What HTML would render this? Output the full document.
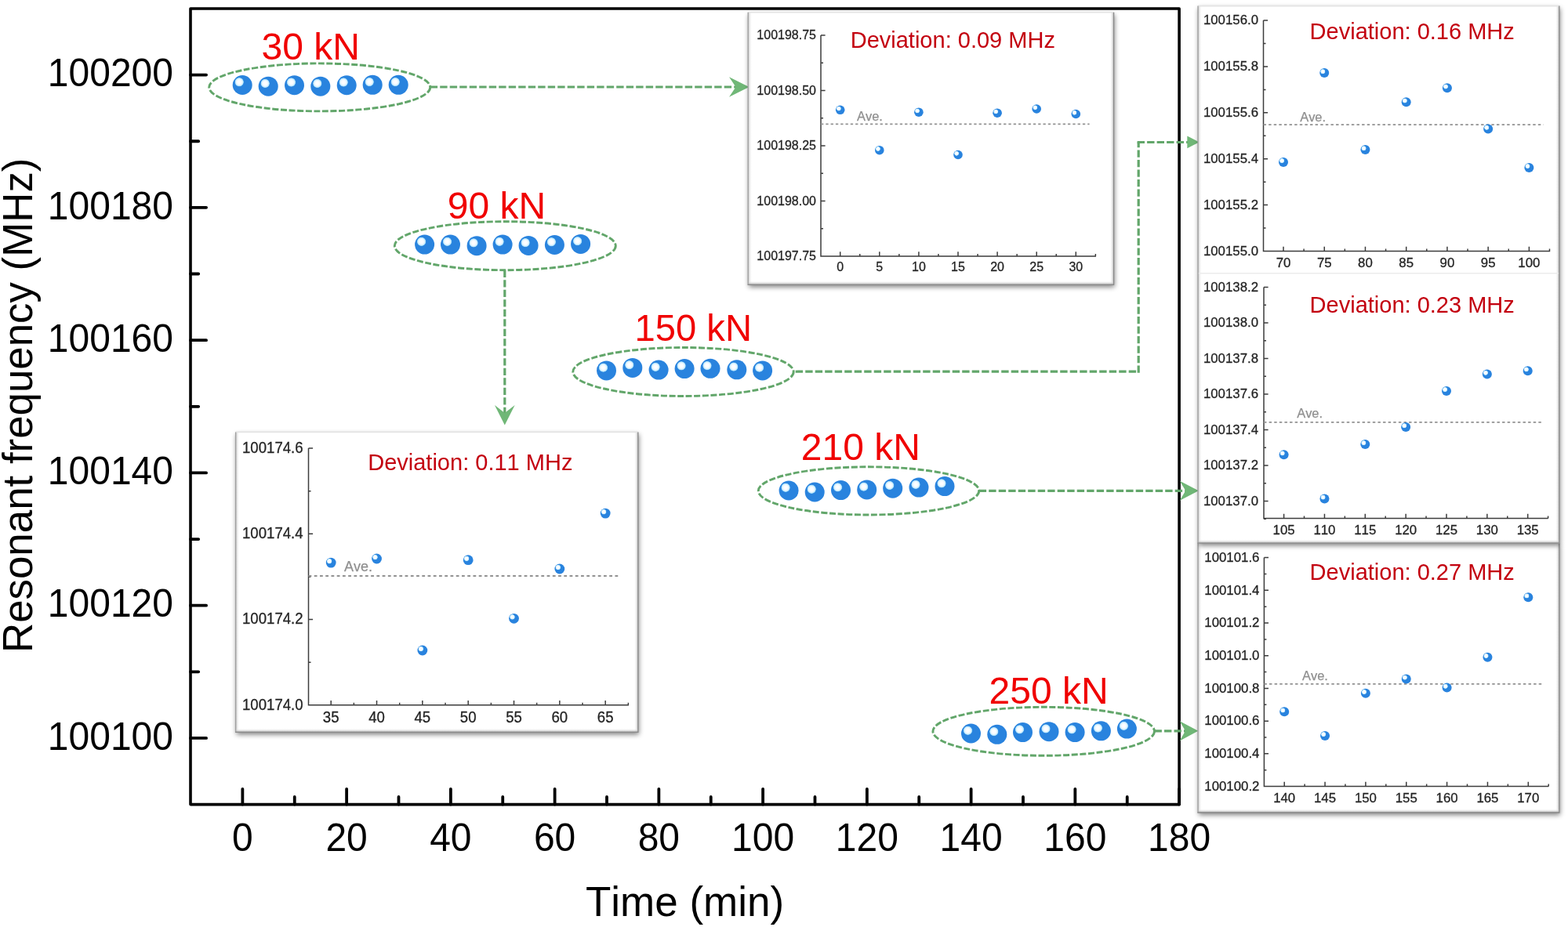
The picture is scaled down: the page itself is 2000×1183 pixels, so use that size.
<!DOCTYPE html><html><head><meta charset="utf-8"><title>Resonant frequency vs time</title>
<style>html,body{margin:0;padding:0;background:#fff;overflow:hidden;}svg{display:block;}text{font-family:'Liberation Sans', Arial, Helvetica, sans-serif;font-kerning:none;}</style></head><body>
<svg width="2000" height="1183" viewBox="0 0 2000 1183">
<defs>
<radialGradient id="hl" cx="0.5" cy="0.5" r="0.5"><stop offset="0" stop-color="#ffffff"/><stop offset="0.5" stop-color="#f7fbff"/><stop offset="0.78" stop-color="#cdeefe"/><stop offset="0.9" stop-color="#98d6f8"/><stop offset="1" stop-color="#5aa8ec" stop-opacity="0.4"/></radialGradient>
<filter id="sh" x="-10%" y="-10%" width="120%" height="125%"><feGaussianBlur in="SourceAlpha" stdDeviation="3"/><feOffset dx="1" dy="3" result="o"/><feComponentTransfer><feFuncA type="linear" slope="0.5"/></feComponentTransfer></filter>
<linearGradient id="gL" x1="0" y1="0" x2="1" y2="0"><stop offset="0" stop-color="#c2c2c2"/><stop offset="1" stop-color="#ffffff" stop-opacity="0"/></linearGradient>
<linearGradient id="gR" x1="1" y1="0" x2="0" y2="0"><stop offset="0" stop-color="#b6b6b6"/><stop offset="1" stop-color="#ffffff" stop-opacity="0"/></linearGradient>
<linearGradient id="gB" x1="0" y1="1" x2="0" y2="0"><stop offset="0" stop-color="#a6a6a6"/><stop offset="1" stop-color="#ffffff" stop-opacity="0"/></linearGradient>
</defs>
<rect x="0" y="0" width="2000" height="1183" fill="#fff"/>
<rect x="243" y="10.96" width="1261.1" height="1015.64" fill="none" stroke="#000" stroke-width="3.6" stroke-linejoin="round"/>
<path d="M243 941.96H263.1M243 772.69H263.1M243 603.42H263.1M243 434.14H263.1M243 264.87H263.1M243 95.6H263.1M243 857.33H253.2M243 688.05H253.2M243 518.78H253.2M243 349.51H253.2M243 180.23H253.2M309.37 1026.6V1006.8M442.12 1026.6V1006.8M574.87 1026.6V1006.8M707.62 1026.6V1006.8M840.36 1026.6V1006.8M973.11 1026.6V1006.8M1105.86 1026.6V1006.8M1238.61 1026.6V1006.8M1371.35 1026.6V1006.8M1504.1 1026.6V1006.8M375.75 1026.6V1017M508.49 1026.6V1017M641.24 1026.6V1017M773.99 1026.6V1017M906.74 1026.6V1017M1039.48 1026.6V1017M1172.23 1026.6V1017M1304.98 1026.6V1017M1437.73 1026.6V1017" stroke="#000" stroke-width="3.8" stroke-linecap="round" fill="none"/>
<text x="221" y="956.76" font-size="49.2" textLength="160.17" lengthAdjust="spacingAndGlyphs" fill="#000" text-anchor="end">100100</text>
<text x="221" y="787.49" font-size="49.2" textLength="160.17" lengthAdjust="spacingAndGlyphs" fill="#000" text-anchor="end">100120</text>
<text x="221" y="618.22" font-size="49.2" textLength="160.17" lengthAdjust="spacingAndGlyphs" fill="#000" text-anchor="end">100140</text>
<text x="221" y="448.94" font-size="49.2" textLength="160.17" lengthAdjust="spacingAndGlyphs" fill="#000" text-anchor="end">100160</text>
<text x="221" y="279.67" font-size="49.2" textLength="160.17" lengthAdjust="spacingAndGlyphs" fill="#000" text-anchor="end">100180</text>
<text x="221" y="110.4" font-size="49.2" textLength="160.17" lengthAdjust="spacingAndGlyphs" fill="#000" text-anchor="end">100200</text>
<text x="309.37" y="1085.6" font-size="49.2" textLength="26.7" lengthAdjust="spacingAndGlyphs" fill="#000" text-anchor="middle">0</text>
<text x="442.12" y="1085.6" font-size="49.2" textLength="53.39" lengthAdjust="spacingAndGlyphs" fill="#000" text-anchor="middle">20</text>
<text x="574.87" y="1085.6" font-size="49.2" textLength="53.39" lengthAdjust="spacingAndGlyphs" fill="#000" text-anchor="middle">40</text>
<text x="707.62" y="1085.6" font-size="49.2" textLength="53.39" lengthAdjust="spacingAndGlyphs" fill="#000" text-anchor="middle">60</text>
<text x="840.36" y="1085.6" font-size="49.2" textLength="53.39" lengthAdjust="spacingAndGlyphs" fill="#000" text-anchor="middle">80</text>
<text x="973.11" y="1085.6" font-size="49.2" textLength="80.09" lengthAdjust="spacingAndGlyphs" fill="#000" text-anchor="middle">100</text>
<text x="1105.86" y="1085.6" font-size="49.2" textLength="80.09" lengthAdjust="spacingAndGlyphs" fill="#000" text-anchor="middle">120</text>
<text x="1238.61" y="1085.6" font-size="49.2" textLength="80.09" lengthAdjust="spacingAndGlyphs" fill="#000" text-anchor="middle">140</text>
<text x="1371.35" y="1085.6" font-size="49.2" textLength="80.09" lengthAdjust="spacingAndGlyphs" fill="#000" text-anchor="middle">160</text>
<text x="1504.1" y="1085.6" font-size="49.2" textLength="80.09" lengthAdjust="spacingAndGlyphs" fill="#000" text-anchor="middle">180</text>
<text x="873.5" y="1169" font-size="54.06" textLength="253.2" lengthAdjust="spacingAndGlyphs" fill="#000" text-anchor="middle">Time (min)</text>
<text x="0" y="0" font-size="53.26" textLength="631.41" lengthAdjust="spacingAndGlyphs" fill="#000" text-anchor="middle" transform="translate(40.6 517.3) rotate(-90)">Resonant frequency (MHz)</text>
<ellipse cx="407.7" cy="111.4" rx="141" ry="30.5" fill="none" stroke="#62a66a" stroke-width="2.9" stroke-dasharray="8 2.6"/>
<circle cx="309.2" cy="108.5" r="12.5" fill="#2983de"/><circle cx="305.2" cy="104.75" r="5.88" fill="url(#hl)"/>
<circle cx="342.2" cy="110.2" r="12.5" fill="#2983de"/><circle cx="338.2" cy="106.45" r="5.88" fill="url(#hl)"/>
<circle cx="375.5" cy="108.75" r="12.5" fill="#2983de"/><circle cx="371.5" cy="105" r="5.88" fill="url(#hl)"/>
<circle cx="408.8" cy="110.2" r="12.5" fill="#2983de"/><circle cx="404.8" cy="106.45" r="5.88" fill="url(#hl)"/>
<circle cx="442.2" cy="108.75" r="12.5" fill="#2983de"/><circle cx="438.2" cy="105" r="5.88" fill="url(#hl)"/>
<circle cx="475.2" cy="108.3" r="12.5" fill="#2983de"/><circle cx="471.2" cy="104.55" r="5.88" fill="url(#hl)"/>
<circle cx="508.2" cy="108.3" r="12.5" fill="#2983de"/><circle cx="504.2" cy="104.55" r="5.88" fill="url(#hl)"/>
<text x="333.5" y="75.7" font-size="48" textLength="125.39" lengthAdjust="spacingAndGlyphs" fill="#f00000">30 kN</text>
<ellipse cx="644.3" cy="313.7" rx="141" ry="31" fill="none" stroke="#62a66a" stroke-width="2.9" stroke-dasharray="8 2.6"/>
<circle cx="541.6" cy="312.1" r="12.5" fill="#2983de"/><circle cx="537.6" cy="308.35" r="5.88" fill="url(#hl)"/>
<circle cx="574.5" cy="312.1" r="12.5" fill="#2983de"/><circle cx="570.5" cy="308.35" r="5.88" fill="url(#hl)"/>
<circle cx="608.1" cy="313.7" r="12.5" fill="#2983de"/><circle cx="604.1" cy="309.95" r="5.88" fill="url(#hl)"/>
<circle cx="641.1" cy="312.1" r="12.5" fill="#2983de"/><circle cx="637.1" cy="308.35" r="5.88" fill="url(#hl)"/>
<circle cx="674.1" cy="313.4" r="12.5" fill="#2983de"/><circle cx="670.1" cy="309.65" r="5.88" fill="url(#hl)"/>
<circle cx="707.4" cy="312.5" r="12.5" fill="#2983de"/><circle cx="703.4" cy="308.75" r="5.88" fill="url(#hl)"/>
<circle cx="740.6" cy="311.4" r="12.5" fill="#2983de"/><circle cx="736.6" cy="307.65" r="5.88" fill="url(#hl)"/>
<text x="570.7" y="278.8" font-size="48" textLength="125.39" lengthAdjust="spacingAndGlyphs" fill="#f00000">90 kN</text>
<ellipse cx="871.5" cy="474.5" rx="140.7" ry="31" fill="none" stroke="#62a66a" stroke-width="2.9" stroke-dasharray="8 2.6"/>
<circle cx="773.5" cy="472.9" r="12.5" fill="#2983de"/><circle cx="769.5" cy="469.15" r="5.88" fill="url(#hl)"/>
<circle cx="806.8" cy="469.4" r="12.5" fill="#2983de"/><circle cx="802.8" cy="465.65" r="5.88" fill="url(#hl)"/>
<circle cx="840.1" cy="472.1" r="12.5" fill="#2983de"/><circle cx="836.1" cy="468.35" r="5.88" fill="url(#hl)"/>
<circle cx="873.1" cy="470.6" r="12.5" fill="#2983de"/><circle cx="869.1" cy="466.85" r="5.88" fill="url(#hl)"/>
<circle cx="906" cy="470.3" r="12.5" fill="#2983de"/><circle cx="902" cy="466.55" r="5.88" fill="url(#hl)"/>
<circle cx="939.8" cy="471.8" r="12.5" fill="#2983de"/><circle cx="935.8" cy="468.05" r="5.88" fill="url(#hl)"/>
<circle cx="972.6" cy="472.9" r="12.5" fill="#2983de"/><circle cx="968.6" cy="469.15" r="5.88" fill="url(#hl)"/>
<text x="809.6" y="435" font-size="48" textLength="149.35" lengthAdjust="spacingAndGlyphs" fill="#f00000">150 kN</text>
<ellipse cx="1108" cy="626.4" rx="140.7" ry="30.6" fill="none" stroke="#62a66a" stroke-width="2.9" stroke-dasharray="8 2.6"/>
<circle cx="1006.1" cy="626" r="12.5" fill="#2983de"/><circle cx="1002.1" cy="622.25" r="5.88" fill="url(#hl)"/>
<circle cx="1039.2" cy="628" r="12.5" fill="#2983de"/><circle cx="1035.2" cy="624.25" r="5.88" fill="url(#hl)"/>
<circle cx="1072.5" cy="625.6" r="12.5" fill="#2983de"/><circle cx="1068.5" cy="621.85" r="5.88" fill="url(#hl)"/>
<circle cx="1105.7" cy="624.9" r="12.5" fill="#2983de"/><circle cx="1101.7" cy="621.15" r="5.88" fill="url(#hl)"/>
<circle cx="1138.7" cy="623.2" r="12.5" fill="#2983de"/><circle cx="1134.7" cy="619.45" r="5.88" fill="url(#hl)"/>
<circle cx="1172" cy="622.1" r="12.5" fill="#2983de"/><circle cx="1168" cy="618.35" r="5.88" fill="url(#hl)"/>
<circle cx="1205" cy="620.6" r="12.5" fill="#2983de"/><circle cx="1201" cy="616.85" r="5.88" fill="url(#hl)"/>
<text x="1021.8" y="586.5" font-size="48" textLength="152.09" lengthAdjust="spacingAndGlyphs" fill="#f00000">210 kN</text>
<ellipse cx="1331.2" cy="933.3" rx="141.3" ry="31" fill="none" stroke="#62a66a" stroke-width="2.9" stroke-dasharray="8 2.6"/>
<circle cx="1238.5" cy="936" r="12.5" fill="#2983de"/><circle cx="1234.5" cy="932.25" r="5.88" fill="url(#hl)"/>
<circle cx="1271.8" cy="937.3" r="12.5" fill="#2983de"/><circle cx="1267.8" cy="933.55" r="5.88" fill="url(#hl)"/>
<circle cx="1304.5" cy="934.6" r="12.5" fill="#2983de"/><circle cx="1300.5" cy="930.85" r="5.88" fill="url(#hl)"/>
<circle cx="1338" cy="933.7" r="12.5" fill="#2983de"/><circle cx="1334" cy="929.95" r="5.88" fill="url(#hl)"/>
<circle cx="1371.1" cy="934.6" r="12.5" fill="#2983de"/><circle cx="1367.1" cy="930.85" r="5.88" fill="url(#hl)"/>
<circle cx="1404.4" cy="932.8" r="12.5" fill="#2983de"/><circle cx="1400.4" cy="929.05" r="5.88" fill="url(#hl)"/>
<circle cx="1437.4" cy="930.1" r="12.5" fill="#2983de"/><circle cx="1433.4" cy="926.35" r="5.88" fill="url(#hl)"/>
<text x="1261.5" y="898.2" font-size="48" textLength="152.09" lengthAdjust="spacingAndGlyphs" fill="#f00000">250 kN</text>
<path d="M548.7 111H940" stroke="#62a66a" stroke-width="3.2" fill="none" stroke-dasharray="9.4 3.1"/>
<path d="M955.5 111 L930 98.3 L938.5 111 L930 123.7 Z" fill="#70b777"/>
<path d="M643.8 344.7V530" stroke="#62a66a" stroke-width="3.2" fill="none" stroke-dasharray="9.4 3.1"/>
<path d="M643.8 542.6 L630.95 516.9 L643.8 526.9 L656.65 516.9 Z" fill="#70b777"/>
<path d="M1452.2 474.2H1012.2" stroke="#62a66a" stroke-width="3.2" fill="none" stroke-dasharray="9.4 3.1" stroke-dashoffset="9.4"/>
<path d="M1452.2 475.8V181.5" stroke="#62a66a" stroke-width="3.2" fill="none" stroke-dasharray="9.4 3.1"/>
<path d="M1450.6 181.5H1516" stroke="#62a66a" stroke-width="3.2" fill="none" stroke-dasharray="9.4 3.1"/>
<path d="M1514.3 173.5L1529.6 181.4L1514.3 189.2Z" fill="#70b777"/>
<path d="M1248.7 626.3H1515" stroke="#62a66a" stroke-width="3.2" fill="none" stroke-dasharray="9.4 3.1"/>
<path d="M1528.8 626.2 L1504.8 613.7 L1512.2 626.2 L1504.8 638.7 Z" fill="#70b777"/>
<path d="M1472.5 932.8H1515" stroke="#62a66a" stroke-width="3.2" fill="none" stroke-dasharray="9.4 3.1"/>
<path d="M1528.3 932.8 L1504.7 920.2 L1511.9 932.8 L1504.7 945.4 Z" fill="#70b777"/>
<rect x="1528" y="693.2" width="460.9" height="343.8" fill="#000" filter="url(#sh)"/>
<rect x="1528" y="693.2" width="460.9" height="343.8" fill="#fff"/>
<rect x="1528" y="693.2" width="5" height="343.8" fill="url(#gL)"/>
<rect x="1983.9" y="693.2" width="5" height="343.8" fill="url(#gR)"/>
<rect x="1528" y="1032" width="460.9" height="5" fill="url(#gB)"/>
<path d="M1528 693.2H1988.9" stroke="#e4e4e4" stroke-width="1.6" fill="none"/>
<path d="M1528 693.2V1037" stroke="#a0a0a0" stroke-width="1.3" fill="none"/>
<path d="M1527.35 1037H1988.9V693.2" stroke="#8a8a8a" stroke-width="1.3" fill="none"/>
<rect x="1528" y="7.6" width="460.9" height="685.6" fill="#000" filter="url(#sh)"/>
<rect x="1528" y="7.6" width="460.9" height="685.6" fill="#fff"/>
<rect x="1528" y="7.6" width="5" height="685.6" fill="url(#gL)"/>
<rect x="1983.9" y="7.6" width="5" height="685.6" fill="url(#gR)"/>
<rect x="1528" y="688.2" width="460.9" height="5" fill="url(#gB)"/>
<path d="M1528 7.6H1988.9" stroke="#e4e4e4" stroke-width="1.6" fill="none"/>
<path d="M1528 348.7H1988.9" stroke="#ececec" stroke-width="1.6" fill="none"/>
<path d="M1528 7.6V693.2" stroke="#a0a0a0" stroke-width="1.3" fill="none"/>
<path d="M1527.35 693.2H1988.9V7.6" stroke="#8a8a8a" stroke-width="1.3" fill="none"/>
<rect x="954.2" y="15.8" width="466.4" height="347.5" fill="#000" filter="url(#sh)"/>
<rect x="954.2" y="15.8" width="466.4" height="347.5" fill="#fff"/>
<rect x="954.2" y="15.8" width="5" height="347.5" fill="url(#gL)"/>
<rect x="1415.6" y="15.8" width="5" height="347.5" fill="url(#gR)"/>
<rect x="954.2" y="358.3" width="466.4" height="5" fill="url(#gB)"/>
<path d="M954.2 15.8H1420.6" stroke="#e4e4e4" stroke-width="1.6" fill="none"/>
<path d="M954.2 15.8V363.3" stroke="#a0a0a0" stroke-width="1.3" fill="none"/>
<path d="M953.55 363.3H1420.6V15.8" stroke="#8a8a8a" stroke-width="1.3" fill="none"/>
<rect x="300.6" y="551.4" width="513.3" height="383" fill="#000" filter="url(#sh)"/>
<rect x="300.6" y="551.4" width="513.3" height="383" fill="#fff"/>
<rect x="300.6" y="551.4" width="5" height="383" fill="url(#gL)"/>
<rect x="808.9" y="551.4" width="5" height="383" fill="url(#gR)"/>
<rect x="300.6" y="929.4" width="513.3" height="5" fill="url(#gB)"/>
<path d="M300.6 551.4H813.9" stroke="#e4e4e4" stroke-width="1.6" fill="none"/>
<path d="M300.6 551.4V934.4" stroke="#a0a0a0" stroke-width="1.3" fill="none"/>
<path d="M299.95 934.4H813.9V551.4" stroke="#8a8a8a" stroke-width="1.3" fill="none"/>
<path d="M1047 44.9V327H1398M1047 44.9h5.6M1047 115.4h5.6M1047 185.9h5.6M1047 256.4h5.6M1047 326.9h5.6M1047 80.15h3M1047 150.65h3M1047 221.15h3M1047 291.65h3M1071.7 327v-5.8M1121.8 327v-5.8M1171.9 327v-5.8M1222 327v-5.8M1272.1 327v-5.8M1322.2 327v-5.8M1372.3 327v-5.8M1096.75 327v-3M1146.85 327v-3M1196.95 327v-3M1247.05 327v-3M1297.15 327v-3M1347.25 327v-3M1397.35 327v-3" stroke="#3c3c3c" stroke-width="1.5" fill="none"/>
<g stroke="#2a2a2a" stroke-width="0.3">
<text x="1041" y="50.1" font-size="16.64" textLength="75.63" lengthAdjust="spacingAndGlyphs" fill="#222" text-anchor="end">100198.75</text>
<text x="1041" y="120.6" font-size="16.64" textLength="75.63" lengthAdjust="spacingAndGlyphs" fill="#222" text-anchor="end">100198.50</text>
<text x="1041" y="191.1" font-size="16.64" textLength="75.63" lengthAdjust="spacingAndGlyphs" fill="#222" text-anchor="end">100198.25</text>
<text x="1041" y="261.6" font-size="16.64" textLength="75.63" lengthAdjust="spacingAndGlyphs" fill="#222" text-anchor="end">100198.00</text>
<text x="1041" y="332.1" font-size="16.64" textLength="75.63" lengthAdjust="spacingAndGlyphs" fill="#222" text-anchor="end">100197.75</text>
<text x="1071.7" y="346.2" font-size="16.64" textLength="8.9" lengthAdjust="spacingAndGlyphs" fill="#222" text-anchor="middle">0</text>
<text x="1121.8" y="346.2" font-size="16.64" textLength="8.9" lengthAdjust="spacingAndGlyphs" fill="#222" text-anchor="middle">5</text>
<text x="1171.9" y="346.2" font-size="16.64" textLength="17.8" lengthAdjust="spacingAndGlyphs" fill="#222" text-anchor="middle">10</text>
<text x="1222" y="346.2" font-size="16.64" textLength="17.8" lengthAdjust="spacingAndGlyphs" fill="#222" text-anchor="middle">15</text>
<text x="1272.1" y="346.2" font-size="16.64" textLength="17.8" lengthAdjust="spacingAndGlyphs" fill="#222" text-anchor="middle">20</text>
<text x="1322.2" y="346.2" font-size="16.64" textLength="17.8" lengthAdjust="spacingAndGlyphs" fill="#222" text-anchor="middle">25</text>
<text x="1372.3" y="346.2" font-size="16.64" textLength="17.8" lengthAdjust="spacingAndGlyphs" fill="#222" text-anchor="middle">30</text>
</g>
<path d="M1047 158.4H1389.6" stroke="#929292" stroke-width="1.6" stroke-dasharray="3.3 3"/>
<text x="1093" y="154.1" font-size="16.12" textLength="32.88" lengthAdjust="spacingAndGlyphs" fill="#909090" stroke="#909090" stroke-width="0.25">Ave.</text>
<text x="1084.7" y="61.2" font-size="28.9" textLength="261.25" lengthAdjust="spacingAndGlyphs" fill="#c3000f">Deviation: 0.09 MHz</text>
<circle cx="1071.7" cy="140.3" r="5.8" fill="#2983de"/><circle cx="1069.84" cy="138.56" r="3.13" fill="url(#hl)"/>
<circle cx="1121.8" cy="191.7" r="5.8" fill="#2983de"/><circle cx="1119.94" cy="189.96" r="3.13" fill="url(#hl)"/>
<circle cx="1171.9" cy="143.2" r="5.8" fill="#2983de"/><circle cx="1170.04" cy="141.46" r="3.13" fill="url(#hl)"/>
<circle cx="1222" cy="197.5" r="5.8" fill="#2983de"/><circle cx="1220.14" cy="195.76" r="3.13" fill="url(#hl)"/>
<circle cx="1272.1" cy="144.2" r="5.8" fill="#2983de"/><circle cx="1270.24" cy="142.46" r="3.13" fill="url(#hl)"/>
<circle cx="1322.2" cy="139" r="5.8" fill="#2983de"/><circle cx="1320.34" cy="137.26" r="3.13" fill="url(#hl)"/>
<circle cx="1372.3" cy="145.5" r="5.8" fill="#2983de"/><circle cx="1370.44" cy="143.76" r="3.13" fill="url(#hl)"/>
<path d="M393.5 572V899.8H802M393.5 572h5.6M393.5 681.27h5.6M393.5 790.54h5.6M393.5 899.81h5.6M393.5 626.63h3M393.5 735.9h3M393.5 845.17h3M422.2 899.8v-5.8M480.53 899.8v-5.8M538.86 899.8v-5.8M597.19 899.8v-5.8M655.52 899.8v-5.8M713.85 899.8v-5.8M772.18 899.8v-5.8M451.37 899.8v-3M509.7 899.8v-3M568.03 899.8v-3M626.36 899.8v-3M684.69 899.8v-3M743.02 899.8v-3M801.35 899.8v-3" stroke="#3c3c3c" stroke-width="1.5" fill="none"/>
<g stroke="#2a2a2a" stroke-width="0.3">
<text x="386.6" y="577.8" font-size="19.34" textLength="77.58" lengthAdjust="spacingAndGlyphs" fill="#222" text-anchor="end">100174.6</text>
<text x="386.6" y="687.07" font-size="19.34" textLength="77.58" lengthAdjust="spacingAndGlyphs" fill="#222" text-anchor="end">100174.4</text>
<text x="386.6" y="796.34" font-size="19.34" textLength="77.58" lengthAdjust="spacingAndGlyphs" fill="#222" text-anchor="end">100174.2</text>
<text x="386.6" y="905.61" font-size="19.34" textLength="77.58" lengthAdjust="spacingAndGlyphs" fill="#222" text-anchor="end">100174.0</text>
<text x="422.2" y="921.8" font-size="19.34" textLength="20.69" lengthAdjust="spacingAndGlyphs" fill="#222" text-anchor="middle">35</text>
<text x="480.53" y="921.8" font-size="19.34" textLength="20.69" lengthAdjust="spacingAndGlyphs" fill="#222" text-anchor="middle">40</text>
<text x="538.86" y="921.8" font-size="19.34" textLength="20.69" lengthAdjust="spacingAndGlyphs" fill="#222" text-anchor="middle">45</text>
<text x="597.19" y="921.8" font-size="19.34" textLength="20.69" lengthAdjust="spacingAndGlyphs" fill="#222" text-anchor="middle">50</text>
<text x="655.52" y="921.8" font-size="19.34" textLength="20.69" lengthAdjust="spacingAndGlyphs" fill="#222" text-anchor="middle">55</text>
<text x="713.85" y="921.8" font-size="19.34" textLength="20.69" lengthAdjust="spacingAndGlyphs" fill="#222" text-anchor="middle">60</text>
<text x="772.18" y="921.8" font-size="19.34" textLength="20.69" lengthAdjust="spacingAndGlyphs" fill="#222" text-anchor="middle">65</text>
</g>
<path d="M393.5 735H791.7" stroke="#929292" stroke-width="1.84" stroke-dasharray="3.79 3.45"/>
<text x="439" y="729.2" font-size="17.68" textLength="36.06" lengthAdjust="spacingAndGlyphs" fill="#909090" stroke="#909090" stroke-width="0.25">Ave.</text>
<text x="469.2" y="600" font-size="28.9" textLength="261.25" lengthAdjust="spacingAndGlyphs" fill="#c3000f">Deviation: 0.11 MHz</text>
<circle cx="422.2" cy="718.1" r="6.4" fill="#2983de"/><circle cx="420.15" cy="716.18" r="3.46" fill="url(#hl)"/>
<circle cx="480.53" cy="713" r="6.4" fill="#2983de"/><circle cx="478.48" cy="711.08" r="3.46" fill="url(#hl)"/>
<circle cx="538.86" cy="830" r="6.4" fill="#2983de"/><circle cx="536.81" cy="828.08" r="3.46" fill="url(#hl)"/>
<circle cx="597.19" cy="714.7" r="6.4" fill="#2983de"/><circle cx="595.14" cy="712.78" r="3.46" fill="url(#hl)"/>
<circle cx="655.52" cy="789.3" r="6.4" fill="#2983de"/><circle cx="653.47" cy="787.38" r="3.46" fill="url(#hl)"/>
<circle cx="713.85" cy="726" r="6.4" fill="#2983de"/><circle cx="711.8" cy="724.08" r="3.46" fill="url(#hl)"/>
<circle cx="772.18" cy="655.1" r="6.4" fill="#2983de"/><circle cx="770.13" cy="653.18" r="3.46" fill="url(#hl)"/>
<path d="M1611.5 26.1V320.5H1977.2M1611.5 26.1h5.6M1611.5 84.98h5.6M1611.5 143.86h5.6M1611.5 202.74h5.6M1611.5 261.62h5.6M1611.5 320.5h5.6M1611.5 55.54h3M1611.5 114.42h3M1611.5 173.3h3M1611.5 232.18h3M1611.5 291.06h3M1637 320.5v-5.8M1689.23 320.5v-5.8M1741.46 320.5v-5.8M1793.69 320.5v-5.8M1845.92 320.5v-5.8M1898.15 320.5v-5.8M1950.38 320.5v-5.8M1663.1 320.5v-3M1715.33 320.5v-3M1767.56 320.5v-3M1819.79 320.5v-3M1872.02 320.5v-3M1924.25 320.5v-3M1976.48 320.5v-3" stroke="#3c3c3c" stroke-width="1.5" fill="none"/>
<g stroke="#2a2a2a" stroke-width="0.3">
<text x="1605" y="31.2" font-size="16.88" textLength="70.07" lengthAdjust="spacingAndGlyphs" fill="#222" text-anchor="end">100156.0</text>
<text x="1605" y="90.08" font-size="16.88" textLength="70.07" lengthAdjust="spacingAndGlyphs" fill="#222" text-anchor="end">100155.8</text>
<text x="1605" y="148.96" font-size="16.88" textLength="70.07" lengthAdjust="spacingAndGlyphs" fill="#222" text-anchor="end">100155.6</text>
<text x="1605" y="207.84" font-size="16.88" textLength="70.07" lengthAdjust="spacingAndGlyphs" fill="#222" text-anchor="end">100155.4</text>
<text x="1605" y="266.72" font-size="16.88" textLength="70.07" lengthAdjust="spacingAndGlyphs" fill="#222" text-anchor="end">100155.2</text>
<text x="1605" y="325.6" font-size="16.88" textLength="70.07" lengthAdjust="spacingAndGlyphs" fill="#222" text-anchor="end">100155.0</text>
<text x="1637" y="340.8" font-size="16.88" textLength="18.69" lengthAdjust="spacingAndGlyphs" fill="#222" text-anchor="middle">70</text>
<text x="1689.23" y="340.8" font-size="16.88" textLength="18.69" lengthAdjust="spacingAndGlyphs" fill="#222" text-anchor="middle">75</text>
<text x="1741.46" y="340.8" font-size="16.88" textLength="18.69" lengthAdjust="spacingAndGlyphs" fill="#222" text-anchor="middle">80</text>
<text x="1793.69" y="340.8" font-size="16.88" textLength="18.69" lengthAdjust="spacingAndGlyphs" fill="#222" text-anchor="middle">85</text>
<text x="1845.92" y="340.8" font-size="16.88" textLength="18.69" lengthAdjust="spacingAndGlyphs" fill="#222" text-anchor="middle">90</text>
<text x="1898.15" y="340.8" font-size="16.88" textLength="18.69" lengthAdjust="spacingAndGlyphs" fill="#222" text-anchor="middle">95</text>
<text x="1950.38" y="340.8" font-size="16.88" textLength="28.03" lengthAdjust="spacingAndGlyphs" fill="#222" text-anchor="middle">100</text>
</g>
<path d="M1611.5 159.1H1968.7" stroke="#929292" stroke-width="1.68" stroke-dasharray="3.46 3.15"/>
<text x="1658.2" y="154.5" font-size="16.12" textLength="32.88" lengthAdjust="spacingAndGlyphs" fill="#909090" stroke="#909090" stroke-width="0.25">Ave.</text>
<text x="1670.6" y="50.2" font-size="28.9" textLength="261.25" lengthAdjust="spacingAndGlyphs" fill="#c3000f">Deviation: 0.16 MHz</text>
<circle cx="1637" cy="206.9" r="6" fill="#2983de"/><circle cx="1635.08" cy="205.1" r="3.24" fill="url(#hl)"/>
<circle cx="1689.23" cy="93.1" r="6" fill="#2983de"/><circle cx="1687.31" cy="91.3" r="3.24" fill="url(#hl)"/>
<circle cx="1741.46" cy="191.1" r="6" fill="#2983de"/><circle cx="1739.54" cy="189.3" r="3.24" fill="url(#hl)"/>
<circle cx="1793.69" cy="130.3" r="6" fill="#2983de"/><circle cx="1791.77" cy="128.5" r="3.24" fill="url(#hl)"/>
<circle cx="1845.92" cy="112.3" r="6" fill="#2983de"/><circle cx="1844" cy="110.5" r="3.24" fill="url(#hl)"/>
<circle cx="1898.15" cy="164.6" r="6" fill="#2983de"/><circle cx="1896.23" cy="162.8" r="3.24" fill="url(#hl)"/>
<circle cx="1950.38" cy="213.9" r="6" fill="#2983de"/><circle cx="1948.46" cy="212.1" r="3.24" fill="url(#hl)"/>
<path d="M1612 366.6V661.5H1974.7M1612 366.6h5.6M1612 412.1h5.6M1612 457.6h5.6M1612 503.1h5.6M1612 548.6h5.6M1612 594.1h5.6M1612 639.6h5.6M1612 389.35h3M1612 434.85h3M1612 480.35h3M1612 525.85h3M1612 571.35h3M1612 616.85h3M1612 662.35h3M1637.6 661.5v-5.8M1689.45 661.5v-5.8M1741.3 661.5v-5.8M1793.15 661.5v-5.8M1845 661.5v-5.8M1896.85 661.5v-5.8M1948.7 661.5v-5.8M1663.5 661.5v-3M1715.35 661.5v-3M1767.2 661.5v-3M1819.05 661.5v-3M1870.9 661.5v-3M1922.75 661.5v-3M1974.6 661.5v-3" stroke="#3c3c3c" stroke-width="1.5" fill="none"/>
<g stroke="#2a2a2a" stroke-width="0.3">
<text x="1605" y="371.8" font-size="16.88" textLength="70.07" lengthAdjust="spacingAndGlyphs" fill="#222" text-anchor="end">100138.2</text>
<text x="1605" y="417.3" font-size="16.88" textLength="70.07" lengthAdjust="spacingAndGlyphs" fill="#222" text-anchor="end">100138.0</text>
<text x="1605" y="462.8" font-size="16.88" textLength="70.07" lengthAdjust="spacingAndGlyphs" fill="#222" text-anchor="end">100137.8</text>
<text x="1605" y="508.3" font-size="16.88" textLength="70.07" lengthAdjust="spacingAndGlyphs" fill="#222" text-anchor="end">100137.6</text>
<text x="1605" y="553.8" font-size="16.88" textLength="70.07" lengthAdjust="spacingAndGlyphs" fill="#222" text-anchor="end">100137.4</text>
<text x="1605" y="599.3" font-size="16.88" textLength="70.07" lengthAdjust="spacingAndGlyphs" fill="#222" text-anchor="end">100137.2</text>
<text x="1605" y="644.8" font-size="16.88" textLength="70.07" lengthAdjust="spacingAndGlyphs" fill="#222" text-anchor="end">100137.0</text>
<text x="1637.6" y="681.8" font-size="16.88" textLength="28.03" lengthAdjust="spacingAndGlyphs" fill="#222" text-anchor="middle">105</text>
<text x="1689.45" y="681.8" font-size="16.88" textLength="28.03" lengthAdjust="spacingAndGlyphs" fill="#222" text-anchor="middle">110</text>
<text x="1741.3" y="681.8" font-size="16.88" textLength="28.03" lengthAdjust="spacingAndGlyphs" fill="#222" text-anchor="middle">115</text>
<text x="1793.15" y="681.8" font-size="16.88" textLength="28.03" lengthAdjust="spacingAndGlyphs" fill="#222" text-anchor="middle">120</text>
<text x="1845" y="681.8" font-size="16.88" textLength="28.03" lengthAdjust="spacingAndGlyphs" fill="#222" text-anchor="middle">125</text>
<text x="1896.85" y="681.8" font-size="16.88" textLength="28.03" lengthAdjust="spacingAndGlyphs" fill="#222" text-anchor="middle">130</text>
<text x="1948.7" y="681.8" font-size="16.88" textLength="28.03" lengthAdjust="spacingAndGlyphs" fill="#222" text-anchor="middle">135</text>
</g>
<path d="M1612 538.8H1965.9" stroke="#929292" stroke-width="1.68" stroke-dasharray="3.46 3.15"/>
<text x="1654.2" y="532.5" font-size="16.12" textLength="32.88" lengthAdjust="spacingAndGlyphs" fill="#909090" stroke="#909090" stroke-width="0.25">Ave.</text>
<text x="1670.6" y="399.4" font-size="28.9" textLength="261.25" lengthAdjust="spacingAndGlyphs" fill="#c3000f">Deviation: 0.23 MHz</text>
<circle cx="1637.6" cy="580.2" r="6" fill="#2983de"/><circle cx="1635.68" cy="578.4" r="3.24" fill="url(#hl)"/>
<circle cx="1689.45" cy="636.4" r="6" fill="#2983de"/><circle cx="1687.53" cy="634.6" r="3.24" fill="url(#hl)"/>
<circle cx="1741.3" cy="567" r="6" fill="#2983de"/><circle cx="1739.38" cy="565.2" r="3.24" fill="url(#hl)"/>
<circle cx="1793.15" cy="545.1" r="6" fill="#2983de"/><circle cx="1791.23" cy="543.3" r="3.24" fill="url(#hl)"/>
<circle cx="1845" cy="498.9" r="6" fill="#2983de"/><circle cx="1843.08" cy="497.1" r="3.24" fill="url(#hl)"/>
<circle cx="1896.85" cy="477.6" r="6" fill="#2983de"/><circle cx="1894.93" cy="475.8" r="3.24" fill="url(#hl)"/>
<circle cx="1948.7" cy="473.2" r="6" fill="#2983de"/><circle cx="1946.78" cy="471.4" r="3.24" fill="url(#hl)"/>
<path d="M1612.4 711.6V1003.6H1975.3M1612.4 711.6h5.6M1612.4 753.31h5.6M1612.4 795.02h5.6M1612.4 836.73h5.6M1612.4 878.44h5.6M1612.4 920.15h5.6M1612.4 961.86h5.6M1612.4 1003.57h5.6M1612.4 732.46h3M1612.4 774.17h3M1612.4 815.88h3M1612.4 857.59h3M1612.4 899.3h3M1612.4 941.01h3M1612.4 982.72h3M1638.2 1003.6v-5.8M1690.05 1003.6v-5.8M1741.9 1003.6v-5.8M1793.75 1003.6v-5.8M1845.6 1003.6v-5.8M1897.45 1003.6v-5.8M1949.3 1003.6v-5.8M1664.1 1003.6v-3M1715.95 1003.6v-3M1767.8 1003.6v-3M1819.65 1003.6v-3M1871.5 1003.6v-3M1923.35 1003.6v-3M1975.2 1003.6v-3" stroke="#3c3c3c" stroke-width="1.5" fill="none"/>
<g stroke="#2a2a2a" stroke-width="0.3">
<text x="1606.4" y="716.9" font-size="16.88" textLength="70.07" lengthAdjust="spacingAndGlyphs" fill="#222" text-anchor="end">100101.6</text>
<text x="1606.4" y="758.61" font-size="16.88" textLength="70.07" lengthAdjust="spacingAndGlyphs" fill="#222" text-anchor="end">100101.4</text>
<text x="1606.4" y="800.32" font-size="16.88" textLength="70.07" lengthAdjust="spacingAndGlyphs" fill="#222" text-anchor="end">100101.2</text>
<text x="1606.4" y="842.03" font-size="16.88" textLength="70.07" lengthAdjust="spacingAndGlyphs" fill="#222" text-anchor="end">100101.0</text>
<text x="1606.4" y="883.74" font-size="16.88" textLength="70.07" lengthAdjust="spacingAndGlyphs" fill="#222" text-anchor="end">100100.8</text>
<text x="1606.4" y="925.45" font-size="16.88" textLength="70.07" lengthAdjust="spacingAndGlyphs" fill="#222" text-anchor="end">100100.6</text>
<text x="1606.4" y="967.16" font-size="16.88" textLength="70.07" lengthAdjust="spacingAndGlyphs" fill="#222" text-anchor="end">100100.4</text>
<text x="1606.4" y="1008.87" font-size="16.88" textLength="70.07" lengthAdjust="spacingAndGlyphs" fill="#222" text-anchor="end">100100.2</text>
<text x="1638.2" y="1024" font-size="16.88" textLength="28.03" lengthAdjust="spacingAndGlyphs" fill="#222" text-anchor="middle">140</text>
<text x="1690.05" y="1024" font-size="16.88" textLength="28.03" lengthAdjust="spacingAndGlyphs" fill="#222" text-anchor="middle">145</text>
<text x="1741.9" y="1024" font-size="16.88" textLength="28.03" lengthAdjust="spacingAndGlyphs" fill="#222" text-anchor="middle">150</text>
<text x="1793.75" y="1024" font-size="16.88" textLength="28.03" lengthAdjust="spacingAndGlyphs" fill="#222" text-anchor="middle">155</text>
<text x="1845.6" y="1024" font-size="16.88" textLength="28.03" lengthAdjust="spacingAndGlyphs" fill="#222" text-anchor="middle">160</text>
<text x="1897.45" y="1024" font-size="16.88" textLength="28.03" lengthAdjust="spacingAndGlyphs" fill="#222" text-anchor="middle">165</text>
<text x="1949.3" y="1024" font-size="16.88" textLength="28.03" lengthAdjust="spacingAndGlyphs" fill="#222" text-anchor="middle">170</text>
</g>
<path d="M1612.4 872.8H1967.5" stroke="#929292" stroke-width="1.68" stroke-dasharray="3.46 3.15"/>
<text x="1661" y="868.4" font-size="16.12" textLength="32.88" lengthAdjust="spacingAndGlyphs" fill="#909090" stroke="#909090" stroke-width="0.25">Ave.</text>
<text x="1670.6" y="740.4" font-size="28.9" textLength="261.25" lengthAdjust="spacingAndGlyphs" fill="#c3000f">Deviation: 0.27 MHz</text>
<circle cx="1638.2" cy="908.3" r="6" fill="#2983de"/><circle cx="1636.28" cy="906.5" r="3.24" fill="url(#hl)"/>
<circle cx="1690.05" cy="938.9" r="6" fill="#2983de"/><circle cx="1688.13" cy="937.1" r="3.24" fill="url(#hl)"/>
<circle cx="1741.9" cy="884.8" r="6" fill="#2983de"/><circle cx="1739.98" cy="883" r="3.24" fill="url(#hl)"/>
<circle cx="1793.75" cy="866.4" r="6" fill="#2983de"/><circle cx="1791.83" cy="864.6" r="3.24" fill="url(#hl)"/>
<circle cx="1845.6" cy="877.6" r="6" fill="#2983de"/><circle cx="1843.68" cy="875.8" r="3.24" fill="url(#hl)"/>
<circle cx="1897.45" cy="838.8" r="6" fill="#2983de"/><circle cx="1895.53" cy="837" r="3.24" fill="url(#hl)"/>
<circle cx="1949.3" cy="762.2" r="6" fill="#2983de"/><circle cx="1947.38" cy="760.4" r="3.24" fill="url(#hl)"/>
</svg></body></html>
